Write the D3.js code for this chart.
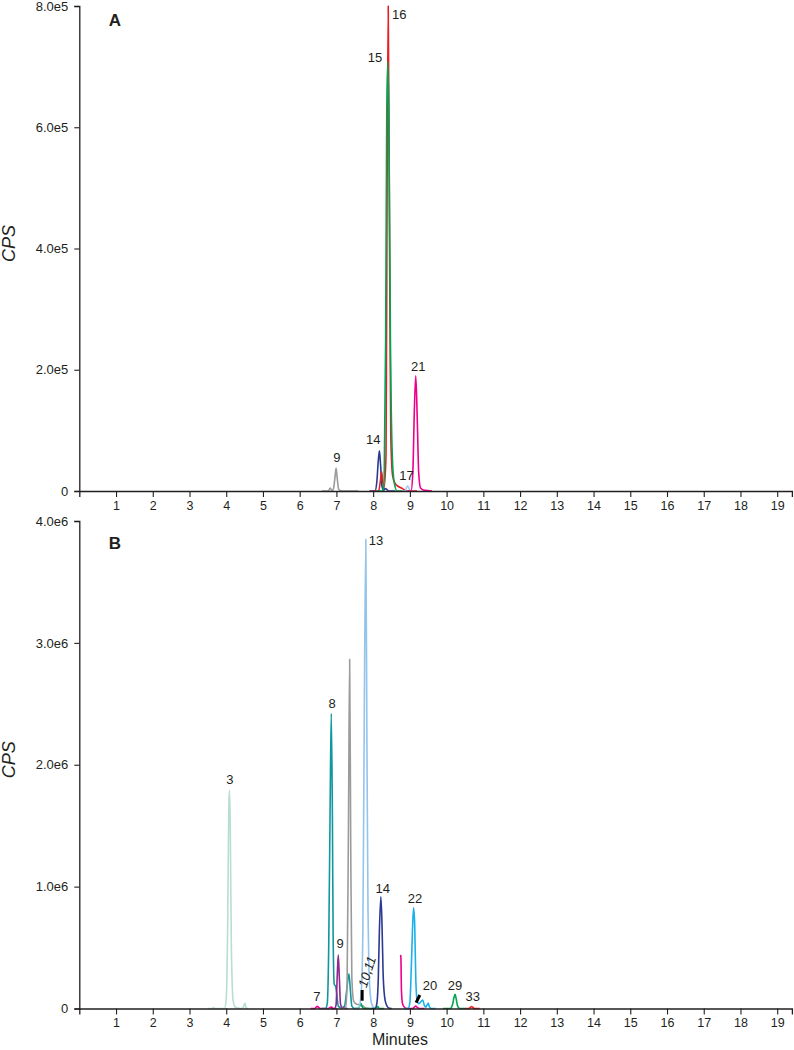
<!DOCTYPE html>
<html>
  <head>
    <meta charset="utf-8">
    <title>Chromatograms A and B</title>
    <script src="https://d3js.org/d3.v7.min.js"></script>
    <style>
      body { margin: 0; background: #fff; }
      text { font-family: Arial, "Liberation Sans", sans-serif; fill: #231f20; }
    </style>
  </head>
  <body>
    <script>
    // ---- data: [minute, cps] ----
    // panel A
    var a_gray9   = [[6.6,0],[6.78,0],[6.83,5000],[6.88,0],[6.92,4000],[6.96,22000],[6.99,38000],[7.02,22000],[7.06,3000],[7.15,0],[7.6,0]]
    var a_navy14  = [[7.9,0],[8.05,0],[8.1,15000],[8.14,50000],[8.17,66500],[8.2,45000],[8.24,8000],[8.28,1000],[8.33,4000],[8.36,3000],[8.42,0],[8.6,0]]
    var a_red16   = [[8.0,0],[8.15,0],[8.2,18000],[8.23,32000],[8.26,15000],[8.3,6000],[8.35,60000],[8.38,500000],[8.41,800000],[8.44,480000],[8.48,90000],[8.53,25000],[8.6,12000],[8.7,7000],[8.8,4000],[8.9,0],[9.2,0]]
    var a_green15 = [[8.1,0],[8.26,0],[8.3,20000],[8.34,250000],[8.37,620000],[8.40,708000],[8.43,600000],[8.47,250000],[8.52,60000],[8.57,15000],[8.65,0],[8.9,0]]
    var a_blue17  = [[8.8,0],[8.87,0],[8.91,6000],[8.94,8500],[8.97,5000],[9.02,0],[9.05,0]]
    var a_pink21  = [[8.95,0],[9.03,0],[9.08,30000],[9.12,130000],[9.16,190000],[9.2,120000],[9.24,30000],[9.29,5000],[9.4,1000],[9.6,0]]

    // panel B
    var b_pale3   = [[3.5,0],[3.62,0],[3.65,8000],[3.68,0],[3.95,0],[4.0,80000],[4.04,700000],[4.07,1650000],[4.09,1790000],[4.11,1500000],[4.14,500000],[4.19,60000],[4.25,10000],[4.4,0],[4.47,10000],[4.51,45000],[4.54,5000],[4.6,0]]
    var b_pink7   = [[6.3,0],[6.42,0],[6.45,12000],[6.48,18000],[6.51,10000],[6.56,0],[6.78,0],[6.84,10000],[6.87,12000],[6.9,0],[7.0,0]]
    var b_teal8   = [[6.6,0],[6.7,0],[6.75,40000],[6.79,500000],[6.83,1700000],[6.86,2420000],[6.89,1600000],[6.91,600000],[6.94,200000],[6.98,180000],[7.01,120000],[7.05,20000],[7.12,5000],[7.22,20000],[7.28,150000],[7.34,285000],[7.38,150000],[7.42,20000],[7.5,0],[7.6,0]]
    var b_purple9 = [[6.85,0],[6.95,0],[6.99,30000],[7.02,250000],[7.05,440000],[7.08,250000],[7.11,40000],[7.16,5000],[7.3,0]]
    var b_gray    = [[7.1,0],[7.25,0],[7.29,200000],[7.33,1600000],[7.36,2865000],[7.39,1300000],[7.42,250000],[7.47,60000],[7.55,35000],[7.65,30000],[7.72,20000],[7.8,5000],[7.9,0]]
    var b_green11 = [[7.5,0],[7.6,0],[7.64,25000],[7.67,40000],[7.7,15000],[7.75,0],[8.05,0],[8.1,12000],[8.13,15000],[8.16,0],[8.3,0]]
    var b_blue13  = [[7.5,0],[7.6,0],[7.66,80000],[7.7,300000],[7.72,640000],[7.75,2000000],[7.8,3850000],[7.83,2200000],[7.86,800000],[7.88,400000],[7.92,120000],[7.97,30000],[8.05,0]]
    var b_navy14  = [[7.95,0],[8.05,0],[8.1,40000],[8.14,250000],[8.17,640000],[8.21,917000],[8.24,700000],[8.27,300000],[8.31,100000],[8.36,30000],[8.42,5000],[8.5,0]]
    var b_pink20  = [[8.745,440000],[8.755,420000],[8.77,150000],[8.8,40000],[8.85,10000],[8.92,0],[9.08,0],[9.12,12000],[9.16,20000],[9.2,10000],[9.26,0],[9.4,0]]
    var b_sky22   = [[8.85,0],[8.95,0],[9.0,50000],[9.04,350000],[9.07,640000],[9.1,827000],[9.13,700000],[9.16,250000],[9.2,60000],[9.25,40000],[9.3,55000],[9.35,70000],[9.39,30000],[9.43,10000],[9.47,30000],[9.5,45000],[9.53,15000],[9.58,0],[9.7,0]]
    var b_green29 = [[9.9,0],[10.1,0],[10.16,30000],[10.2,90000],[10.23,116000],[10.26,80000],[10.3,20000],[10.36,0],[10.5,0]]
    var b_red33   = [[10.5,0],[10.6,0],[10.65,10000],[10.68,16000],[10.71,10000],[10.76,0],[10.9,0]]

    // tick values
    var minuteTicks = [1,2,3,4,5,6,7,8,9,10,11,12,13,14,15,16,17,18,19]
    var cpsTicksA = [0, 2e5, 4e5, 6e5, 8e5]
    var cpsTicksB = [0, 1e6, 2e6, 3e6, 4e6]

    // peak numbers, placed at [minute, cps]
    var peakLabelsA = [["16",8.71,783500],["15",8.05,713700],["21",9.23,203400],["14",8.00,83000],["9",7.01,52800],["17",8.91,23600]]
    var peakLabelsB = [["3",4.10,1867000],["7",6.47,88600],["8",6.88,2490000],["9",7.10,521000],["13",8.08,3828000],["14",8.26,978000],["22",9.14,896000],["20",9.55,176000],["29",10.23,179000],["33",10.71,88600]]

    var gray = "#9b9b9b", navy = "#2b3990", red = "#ed1c24", green = "#00a651",
        pale = "#b7ded2", teal = "#10979d", purple = "#92278f", pink = "#ec008c",
        blue = "#93c4ec", sky = "#1cb0ea", lightblue = "#a7cdef"

    var seriesA = [
      {d: a_gray9, c: gray}, {d: a_navy14, c: navy}, {d: a_red16, c: red},
      {d: a_green15, c: green}, {d: a_blue17, c: lightblue}, {d: a_pink21, c: pink}
    ]
    var seriesB = [
      {d: b_pale3, c: pale}, {d: b_pink7, c: pink}, {d: b_teal8, c: teal},
      {d: b_purple9, c: purple}, {d: b_gray, c: gray}, {d: b_green11, c: green},
      {d: b_blue13, c: blue}, {d: b_navy14, c: navy}, {d: b_pink20, c: pink},
      {d: b_sky22, c: sky}, {d: b_green29, c: green}, {d: b_red33, c: red}
    ]

    var width = 794, height = 1050

    var svg = d3.select("body").append("svg")
                .attr("width", width)
                .attr("height", height)

    svg.append("rect").attr("width", width).attr("height", height).attr("fill", "#fff")

    var x = d3.scaleLinear().domain([0, 19.4]).range([79.3, 791.9])

    var fmt = function(v) { return v === 0 ? "0" : d3.format(".1e")(v).replace("e+", "e") }

    function panel(series, labels, yDomain, yRange, ticks, letter, labelPos) {
      var y = d3.scaleLinear().domain(yDomain).range(yRange)
      var g = svg.append("g")

      var line = d3.line()
                   .x(function(d) { return x(d[0]) })
                   .y(function(d) { return y(d[1]) })
                   .curve(d3.curveMonotoneX)

      g.selectAll(".trace")
        .data(series)
        .enter()
        .append("path")
        .attr("class", "trace")
        .attr("d", function(s) { return line(s.d) })
        .attr("fill", "none")
        .attr("stroke", function(s) { return s.c })
        .attr("stroke-width", 1.6)
        .attr("stroke-linejoin", "round")

      // axes
      var xa = g.append("g")
                .attr("transform", "translate(0," + yRange[0] + ")")
                .call(d3.axisBottom(x).tickValues(minuteTicks).tickSize(6).tickPadding(4).tickFormat(d3.format("d")))
      var ya = g.append("g")
                .attr("transform", "translate(" + x(0) + ",0)")
                .call(d3.axisLeft(y).tickValues(ticks).tickSize(5).tickPadding(6).tickFormat(fmt))

      ;[xa, ya].forEach(function(a) {
        a.select(".domain").attr("stroke", "#231f20").attr("stroke-width", 1.3)
        a.selectAll(".tick line").attr("stroke", "#231f20").attr("stroke-width", 1.1)
        a.selectAll(".tick text").attr("font-size", 13).attr("fill", "#231f20")
          .attr("font-family", "Arial, 'Liberation Sans', sans-serif")
      })
      xa.selectAll(".tick text").attr("font-size", 12.5)

      // peak numbers
      g.selectAll(".pk")
        .data(labels)
        .enter()
        .append("text")
        .attr("class", "pk")
        .attr("x", function(d) { return x(d[1]) })
        .attr("y", function(d) { return y(d[2]) })
        .attr("text-anchor", "middle")
        .attr("dominant-baseline", "middle")
        .attr("font-size", 13)
        .text(function(d) { return d[0] })

      // panel letter
      g.append("text")
        .attr("x", labelPos[0]).attr("y", labelPos[1])
        .attr("font-size", 17).attr("font-weight", "bold")
        .attr("text-anchor", "middle").attr("dominant-baseline", "middle")
        .text(letter)

      // y title
      var mid = (yRange[0] + yRange[1]) / 2
      g.append("text")
        .attr("transform", "translate(10," + (mid - 5) + ") rotate(-90)")
        .attr("text-anchor", "middle")
        .attr("dominant-baseline", "middle")
        .attr("font-size", 18)
        .attr("font-style", "italic")
        .text("CPS")

      return {g: g, y: y}
    }

    var pA = panel(seriesA, peakLabelsA, [0, 8e5], [491, 6], cpsTicksA, "A", [115, 22])
    var pB = panel(seriesB, peakLabelsB, [0, 4e6], [1008.5, 521], cpsTicksB, "B", [115, 545])

    // extra annotations on B: rotated "10,11" and two black pointers
    var yB = pB.y
    pB.g.append("text")
      .attr("transform", "translate(" + x(7.86) + "," + yB(299000) + ") rotate(-72)")
      .attr("text-anchor", "middle")
      .attr("dominant-baseline", "middle")
      .attr("font-size", 13)
      .attr("font-style", "italic")
      .text("10,11")

    var pointers = [[[7.70, 152000], [7.70, 64000]], [[9.27, 110800], [9.17, 47600]]]
    pB.g.selectAll(".ptr")
      .data(pointers)
      .enter()
      .append("line")
      .attr("class", "ptr")
      .attr("x1", function(d) { return x(d[0][0]) })
      .attr("y1", function(d) { return yB(d[0][1]) })
      .attr("x2", function(d) { return x(d[1][0]) })
      .attr("y2", function(d) { return yB(d[1][1]) })
      .attr("stroke", "#000")
      .attr("stroke-width", 3)

    svg.append("text")
      .attr("x", 400).attr("y", 1041)
      .attr("text-anchor", "middle").attr("dominant-baseline", "middle")
      .attr("font-size", 16)
      .text("Minutes")
    </script>
  </body>
</html>
